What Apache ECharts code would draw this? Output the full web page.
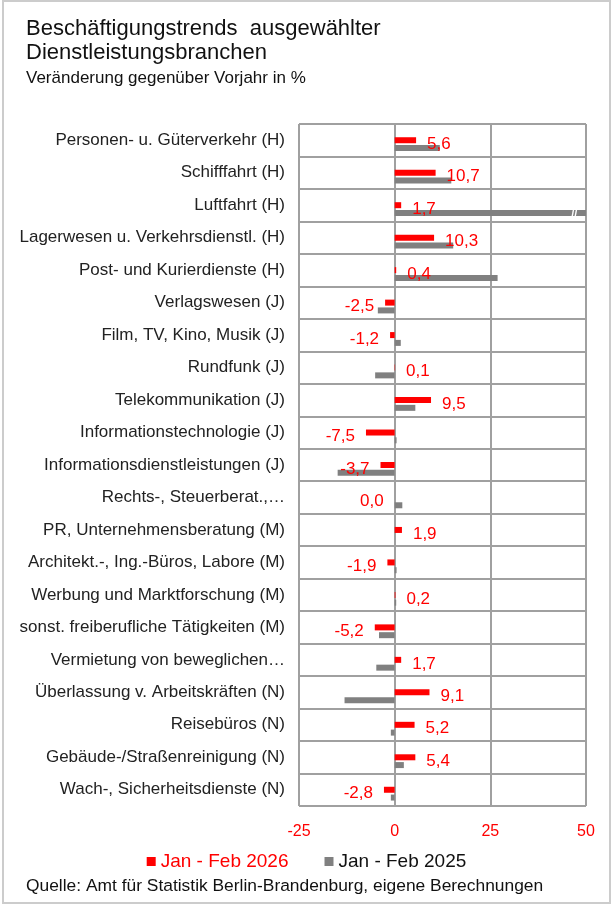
<!DOCTYPE html>
<html><head><meta charset="utf-8">
<script src="https://cdn.jsdelivr.net/npm/echarts@6/dist/echarts.min.js"></script>
<style>html,body{margin:0;padding:0;background:#fff}#c{width:613px;height:905px}</style>
</head><body><div id="c"></div>
<script>
const categories = [
  "Personen- u. Güterverkehr (H)",
  "Schifffahrt (H)",
  "Luftfahrt (H)",
  "Lagerwesen u. Verkehrsdienstl. (H)",
  "Post- und Kurierdienste (H)",
  "Verlagswesen (J)",
  "Film, TV, Kino, Musik (J)",
  "Rundfunk (J)",
  "Telekommunikation (J)",
  "Informationstechnologie (J)",
  "Informationsdienstleistungen (J)",
  "Rechts-, Steuerberat.,…",
  "PR, Unternehmensberatung (M)",
  "Architekt.-, Ing.-Büros, Labore (M)",
  "Werbung und Marktforschung (M)",
  "sonst. freiberufliche Tätigkeiten (M)",
  "Vermietung von beweglichen…",
  "Überlassung v. Arbeitskräften (N)",
  "Reisebüros (N)",
  "Gebäude-/Straßenreinigung (N)",
  "Wach-, Sicherheitsdienste (N)"
];
const values2026 = [5.6, 10.7, 1.7, 10.3, 0.4, -2.5, -1.2, 0.1, 9.5, -7.5, -3.7, 0.0, 1.9, -1.9, 0.2, -5.2, 1.7, 9.1, 5.2, 5.4, -2.8];
const values2025 = [11.8, 14.8, 62.0, 15.3, 26.9, -4.4, 1.6, -5.1, 5.4, 0.5, -14.9, 2.0, 0.0, 0.5, 0.4, -4.1, -4.8, -13.1, -1.0, 2.4, -1.0];
const xTicks = { min: -25, max: 50, interval: 25 };
const seriesNames = ["Jan - Feb 2026", "Jan - Feb 2025"];
const breakMarkAt = 47;

const FONT = "'Liberation Sans', Arial, sans-serif";
const RED = "#ff0000", GRAY = "#808080", GRID = "#a0a0a0";
const fmt = v => Math.abs(v).toFixed(1).replace('.', ',') === '0,0' ? '0,0' : v.toFixed(1).replace('.', ',');

const chart = echarts.init(document.getElementById('c'), null, {renderer: 'canvas'});
chart.setOption({
  animation: false,
  backgroundColor: '#fff',
  textStyle: {fontFamily: FONT},
  graphic: [
    {type: 'rect', shape: {x: 3, y: 1, width: 607, height: 902}, style: {fill: 'none', stroke: '#cccccc', lineWidth: 2}, silent: true},
    {type: 'text', left: 26, top: 17, style: {text: 'Beschäftigungstrends  ausgewählter\nDienstleistungsbranchen', font: "22px " + FONT, fill: '#111', lineHeight: 24}},
    {type: 'text', left: 26, top: 70, style: {text: 'Veränderung gegenüber Vorjahr in %', font: "17px " + FONT, fill: '#111'}},
    {type: 'text', left: 26, top: 878, style: {text: 'Quelle: Amt für Statistik Berlin-Brandenburg, eigene Berechnungen', font: "17.4px " + FONT, fill: '#111'}}
  ],
  legend: {
    top: 847, left: 'center',
    icon: 'rect', itemWidth: 9, itemHeight: 9, itemGap: 36,
    textStyle: {fontSize: 19, fontFamily: FONT},
    data: [
      {name: seriesNames[0], textStyle: {color: RED}},
      {name: seriesNames[1], textStyle: {color: '#111'}}
    ]
  },
  grid: {left: 299, right: 27, top: 124, bottom: 99, containLabel: false},
  xAxis: {
    type: 'value', min: xTicks.min, max: xTicks.max, interval: xTicks.interval,
    axisLine: {show: false}, axisTick: {show: false},
    splitLine: {show: true, lineStyle: {color: GRID, width: 2}},
    axisLabel: {color: RED, fontSize: 16, margin: 18, fontFamily: FONT}
  },
  yAxis: {
    type: 'category', data: categories, inverse: true,
    axisLine: {show: false}, axisTick: {show: false},
    splitLine: {show: true, lineStyle: {color: GRID, width: 2}},
    axisLabel: {color: '#222', fontSize: 17, margin: 14, fontFamily: FONT}
  },
  series: [
    {name: '_spacer', type: 'bar', data: [], barWidth: 6, barGap: '30%', silent: true},
    {
      name: seriesNames[0], type: 'bar', barWidth: 6, barGap: '30%',
      itemStyle: {color: RED},
      data: values2026.map(v => ({
        value: v,
        label: {show: true, position: v > 0 ? 'right' : 'left', distance: 11, offset: [0, 4],
          color: RED, fontSize: 17, fontFamily: FONT, formatter: () => fmt(v)}
      }))
    },
    {
      name: seriesNames[1], type: 'bar', barWidth: 6, barGap: '30%',
      itemStyle: {color: GRAY},
      data: values2025,
      markPoint: {
        symbol: 'rect', symbolSize: 0, silent: true,
        data: [{coord: [breakMarkAt, categories[2]], label: {show: true, formatter: '//', color: '#fff', fontSize: 11, fontWeight: 'bold', position: 'inside'}}]
      }
    }
  ]
});
</script></body></html>
